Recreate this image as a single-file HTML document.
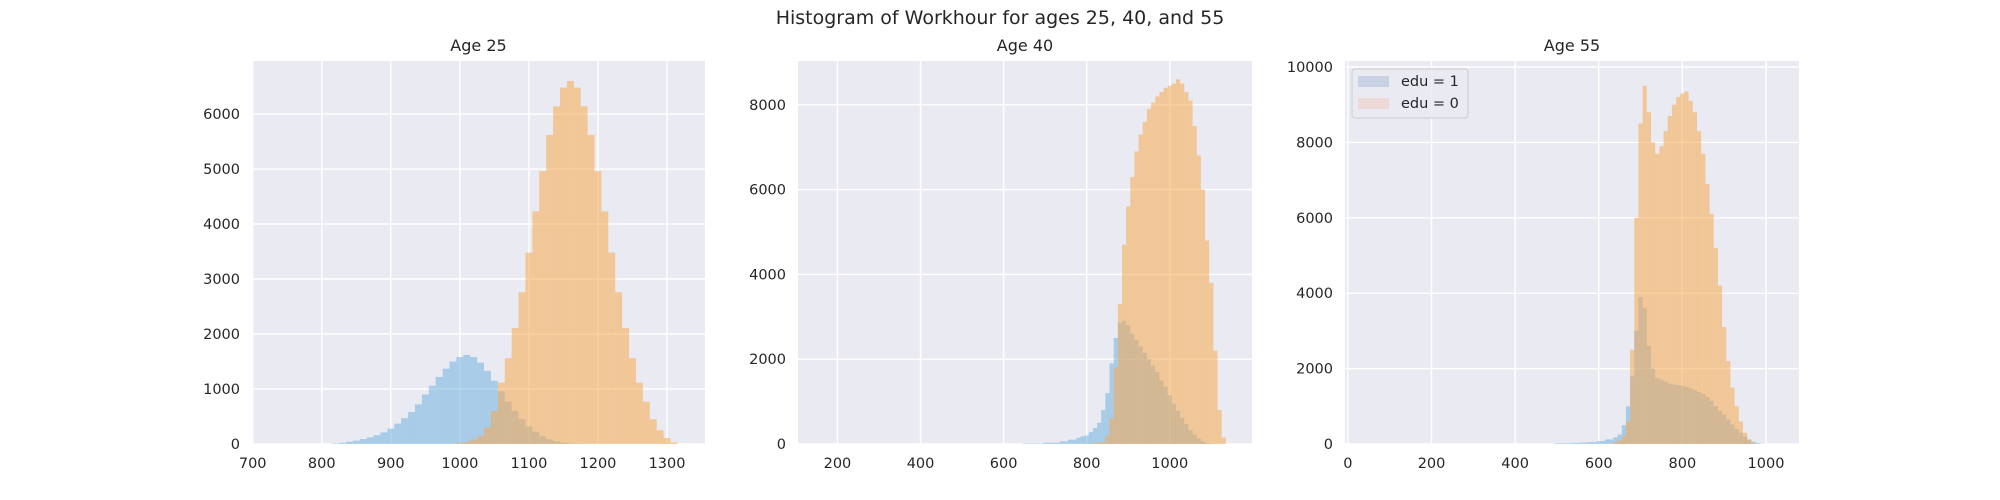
<!DOCTYPE html>
<html><head><meta charset="utf-8">
<style>
body{margin:0;background:#fff;}
svg{display:block;font-family:"DejaVu Sans","Liberation Sans",sans-serif;}
</style></head>
<body>
<svg id="fig" width="2000" height="500">
<text x="1000" y="24" text-anchor="middle" font-size="19" fill="#262626">Histogram of Workhour for ages 25, 40, and 55</text>
</svg>
<script>
// Panel 1: Age 25 (bin centers)
const p1BlueBins = [820,830,840,850,860,870,880,890,900,910,920,930,940,950,960,970,980,990,1000,1010,1020,1030,1040,1050,1060,1070,1080,1090,1100,1110,1120,1130,1140,1150,1160,1170];
const p1BlueCounts = [10,20,40,60,90,120,160,210,280,370,470,580,720,900,1060,1220,1370,1500,1580,1620,1580,1480,1330,1150,960,770,600,450,320,220,140,85,50,25,12,5];
const p1OrangeBins = [1000,1010,1020,1030,1040,1050,1060,1070,1080,1090,1100,1110,1120,1130,1140,1150,1160,1170,1180,1190,1200,1210,1220,1230,1240,1250,1260,1270,1280,1290,1300,1310];
const p1OrangeCounts = [20,40,80,150,300,600,1115,1560,2110,2760,3480,4230,4960,5620,6140,6480,6600,6480,6140,5620,4960,4230,3480,2760,2110,1560,1115,770,450,250,110,30];
const p1XTicks = [700,800,900,1000,1100,1200,1300];
const p1YTicks = [0,1000,2000,3000,4000,5000,6000];
// Panel 2: Age 40
const p2BlueBins = [650,700,740,760,780,790,800,810,820,830,840,850,860,870,880,890,900,910,920,930,940,950,960,970,980,990,1000,1010,1020,1030,1040,1050,1060,1070,1080,1090];
const p2BlueCounts = [10,30,60,100,150,180,200,280,380,500,800,1200,1900,2500,2850,2900,2800,2600,2450,2300,2150,2000,1850,1700,1500,1350,1150,950,780,620,470,330,220,130,60,20];
const p2OrangeBins = [800,810,820,830,840,850,860,870,880,890,900,910,920,930,940,950,960,970,980,990,1000,1010,1020,1030,1040,1050,1060,1070,1080,1090,1100,1110,1120,1130];
const p2OrangeCounts = [10,15,20,30,50,200,600,1800,3300,4700,5600,6300,6900,7300,7600,7900,8050,8200,8300,8400,8450,8500,8600,8500,8300,8100,7500,6800,6000,4800,3800,2200,800,150];
const p2XTicks = [200,400,600,800,1000];
const p2YTicks = [0,2000,4000,6000,8000];
// Panel 3: Age 55
const p3BlueBins = [500,540,560,580,600,620,640,650,660,670,680,690,700,710,720,730,740,750,760,770,780,790,800,810,820,830,840,850,860,870,880,890,900,910,920,930,940,950,960,970,980,990];
const p3BlueCounts = [20,30,40,50,80,120,180,250,500,1000,1800,3000,3900,3600,2600,2000,1750,1700,1650,1600,1580,1560,1550,1520,1480,1430,1380,1330,1250,1150,1000,880,780,650,520,400,300,200,120,60,25,8];
const p3OrangeBins = [640,650,660,670,680,690,700,710,720,730,740,750,760,770,780,790,800,810,820,830,840,850,860,870,880,890,900,910,920,930,940,950,960,970];
const p3OrangeCounts = [50,100,200,600,2500,6000,8500,9500,8800,8000,7700,7900,8300,8700,9000,9200,9300,9350,9100,8800,8300,7700,6900,6100,5200,4200,3100,2200,1500,1000,600,300,120,30];
const p3XTicks = [0,200,400,600,800,1000];
const p3YTicks = [0,2000,4000,6000,8000,10000];

const NS = "http://www.w3.org/2000/svg";
const svg = document.getElementById('fig');
function mk(tag, attrs, parent){
  const e = document.createElementNS(NS, tag);
  for (const k in attrs) e.setAttribute(k, attrs[k]);
  (parent||svg).appendChild(e);
  return e;
}
function panel(key, title, L, R, T, B, xmin, xmax, ymax, xt, yt, series){
  const sx = v => L + (v - xmin) / (xmax - xmin) * (R - L);
  const sy = v => B - v / ymax * (B - T);
  const g = mk('g', {});
  
  
  const bg = mk('rect', {x:L, y:T, width:R-L, height:B-T, fill:'#eaeaf2'}, g);
  
  
  xt.forEach(v => {
    const l = mk('line', {x1:sx(v), x2:sx(v), y1:T, y2:B, stroke:'#fff', 'stroke-width':1.4}, g);
    
    
    const t = mk('text', {x:sx(v), y:B+24, 'text-anchor':'middle', 'font-size':14.5, fill:'#262626'}, g);
    
    
    t.textContent = v;
  });
  yt.forEach(v => {
    const l = mk('line', {x1:L, x2:R, y1:sy(v), y2:sy(v), stroke:'#fff', 'stroke-width':1.4}, g);
    
    
    const t = mk('text', {x:L-12, y:sy(v)+5, 'text-anchor':'end', 'font-size':14.5, fill:'#262626'}, g);
    
    
    t.textContent = v;
  });
  series.forEach(s => {
    const sg = mk('g', {fill:s.color, 'fill-opacity':s.alpha}, g);
    
    
    s.bins.forEach((b, i) => {
      const nx = i < s.bins.length - 1 ? s.bins[i+1] : b + 10;
      const x0 = sx(b - 5), x1 = sx(nx - 5);
      const r = mk('rect', {x:x0, y:sy(s.counts[i]), width:x1-x0, height:B-sy(s.counts[i])}, sg);
      
      
    });
  });
  const tt = mk('text', {x:(L+R)/2, y:T-10, 'text-anchor':'middle', 'font-size':16, fill:'#262626'}, g);
  
  
  tt.textContent = title;
}
const BLUE = '#4c9fd8', ORANGE = '#f5a94f';
panel('age25', 'Age 25', 252, 705, 61, 444, 699, 1355, 6964, p1XTicks, p1YTicks, [
  {name:'edu1', bins:p1BlueBins, counts:p1BlueCounts, color:BLUE, alpha:0.42},
  {name:'edu0', bins:p1OrangeBins, counts:p1OrangeCounts, color:ORANGE, alpha:0.55}]);
panel('age40', 'Age 40', 798, 1252, 61, 444, 105, 1198, 9033, p2XTicks, p2YTicks, [
  {name:'edu1', bins:p2BlueBins, counts:p2BlueCounts, color:BLUE, alpha:0.42},
  {name:'edu0', bins:p2OrangeBins, counts:p2OrangeCounts, color:ORANGE, alpha:0.55}]);
panel('age55', 'Age 55', 1345, 1799, 61, 444, -7, 1079, 10159, p3XTicks, p3YTicks, [
  {name:'edu1', bins:p3BlueBins, counts:p3BlueCounts, color:BLUE, alpha:0.42},
  {name:'edu0', bins:p3OrangeBins, counts:p3OrangeCounts, color:ORANGE, alpha:0.55}]);

// legend
const lg = mk('g', {});


mk('rect', {x:1352, y:69, width:116, height:49, rx:3, fill:'#eaeaf2', 'fill-opacity':0.8, stroke:'#cccccc'}, lg);
const e1 = mk('rect', {x:1358, y:76, width:31, height:11, fill:'#c9d1e4'}, lg);


const e0 = mk('rect', {x:1358, y:98, width:31, height:11, fill:'#eddad6'}, lg);


const t1 = mk('text', {x:1401, y:86, 'font-size':14.5, fill:'#262626'}, lg);


t1.textContent = 'edu = 1';
const t0 = mk('text', {x:1401, y:108, 'font-size':14.5, fill:'#262626'}, lg);


t0.textContent = 'edu = 0';
</script>
</body></html>
